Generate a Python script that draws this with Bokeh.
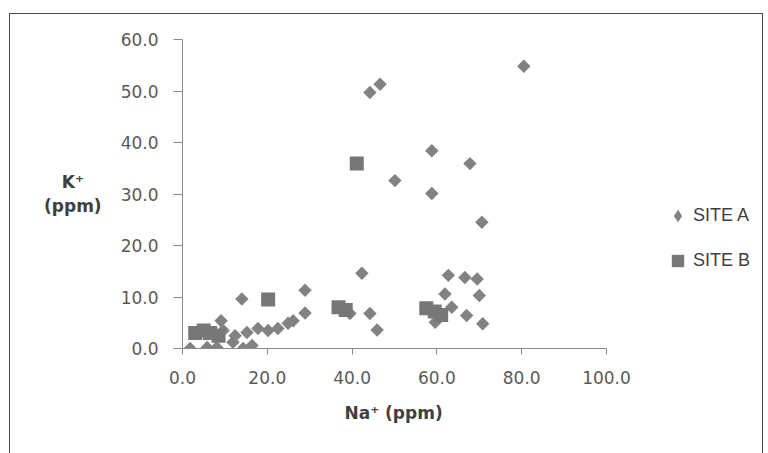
import numpy as np
from bokeh.plotting import figure
from bokeh.models import (ColumnDataSource, Legend, LegendItem, FixedTicker,
                          NumeralTickFormatter, Range1d, Title)
from bokeh.embed import file_html
from bokeh.resources import INLINE

# SITE A (diamonds)
na_a = [1.8, 5.8, 8.1, 9.1, 9.6, 11.9, 12.4, 14.3, 15.2, 16.4, 17.8, 20.2, 22.5, 24.9, 26.1,
        14.0, 28.9, 28.9, 39.5, 42.3, 44.2, 45.9, 44.2, 46.6, 50.1, 58.8, 58.8, 67.8, 70.6,
        80.5, 59.6, 61.9, 62.7, 63.5, 66.6, 67.0, 69.5, 70.0, 70.8]
k_a = [0.0, 0.2, 0.2, 5.4, 3.5, 1.2, 2.5, 0.0, 3.1, 0.6, 3.9, 3.5, 3.9, 4.9, 5.4,
       9.6, 11.3, 6.9, 6.8, 14.6, 6.8, 3.6, 49.7, 51.3, 32.6, 38.4, 30.1, 35.9, 24.5,
       54.8, 5.1, 10.6, 14.2, 8.0, 13.8, 6.4, 13.5, 10.3, 4.8]

# SITE B (squares)
na_b = [3.0, 5.0, 6.5, 8.5, 20.2, 36.8, 38.5, 41.1, 57.5, 59.5, 61.0]
k_b = [3.0, 3.5, 3.0, 2.5, 9.5, 8.0, 7.5, 35.9, 7.8, 7.2, 6.5]

x_ticks = [0, 20, 40, 60, 80, 100]
y_ticks = [0, 10, 20, 30, 40, 50, 60]
x_label = "Na⁺ (ppm)"
y_label = "K⁺\u00a0\u00a0\u00a0\n(ppm)"
series_names = ["SITE A", "SITE B"]

TICK_FONT = "DejaVu Sans"
LABEL_FONT = "DejaVu Sans"
LEGEND_FONT = "Liberation Sans"
COL_A = "#828282"
COL_B = "#777777"

# frame spans 578 px; the 0..100 axis occupies 424 px of it, the rest holds the legend
X_END = 100 * 578 / 424

p = figure(width=752, height=439, output_backend="svg", toolbar_location=None,
           x_range=Range1d(0, X_END), y_range=Range1d(0, 60),
           min_border_left=172, min_border_right=2, min_border_top=25, min_border_bottom=105)
p.margin = (14, 6, 0, 10)
p.styles = {"outline": "1px solid #4a4a4a"}
p.outline_line_color = None
p.grid.visible = False
p.background_fill_color = "white"
p.border_fill_color = "white"

src_a = ColumnDataSource(dict(x=na_a, y=k_a))
src_b = ColumnDataSource(dict(x=na_b, y=k_b))
ra = p.scatter("x", "y", source=src_a, marker="square", angle=np.pi / 4, size=9.5,
               fill_color=COL_A, line_color=None)
rb = p.scatter("x", "y", source=src_b, marker="square", size=14,
               fill_color=COL_B, line_color=None)
# legend swatch for SITE A (legend swatches ignore the marker angle); zero size in the plot
ra_key = p.scatter("x", "y", source=src_a, marker="diamond", size=0,
                   fill_color=COL_A, line_color=None)

for ax in (p.xaxis[0], p.yaxis[0]):
    ax.axis_line_color = "#8a8a8a"
    ax.major_tick_line_color = "#8a8a8a"
    ax.minor_tick_line_color = None
    ax.major_tick_in = 0
    ax.major_label_text_font = TICK_FONT
    ax.major_label_text_font_size = "17px"
    ax.major_label_text_color = "#595959"
    ax.axis_label_text_font = LABEL_FONT
    ax.axis_label_text_font_size = "17px"
    ax.axis_label_text_font_style = "bold"
    ax.axis_label_text_color = "#404040"
    ax.formatter = NumeralTickFormatter(format="0.0")

p.xaxis.ticker = FixedTicker(ticks=x_ticks)
p.yaxis.ticker = FixedTicker(ticks=y_ticks)
p.xaxis.bounds = (0, 100)
p.xaxis.major_tick_out = 6
p.yaxis.major_tick_out = 9
p.xaxis.major_label_standoff = 16
p.yaxis.major_label_standoff = 15

p.yaxis.axis_label = y_label
p.yaxis.axis_label_orientation = "horizontal"
p.yaxis.axis_label_standoff = 16

xt = Title(text=x_label, align="left", offset=162, text_font=LABEL_FONT,
           text_font_size="17px", text_font_style="bold", text_color="#404040",
           standoff=28)
p.add_layout(xt, "below")

legend = Legend(items=[LegendItem(label=series_names[0], renderers=[ra_key]),
                       LegendItem(label=series_names[1], renderers=[rb])],
                location=(480, 70), orientation="vertical")
legend.label_text_font = LEGEND_FONT
legend.label_text_font_size = "18px"
legend.label_text_color = "#404040"
legend.glyph_width = 31
legend.glyph_height = 35
legend.label_standoff = 0
legend.spacing = 10
legend.border_line_color = None
legend.background_fill_alpha = 0
p.add_layout(legend, "center")

open("out.html", "w").write(file_html(p, INLINE))
